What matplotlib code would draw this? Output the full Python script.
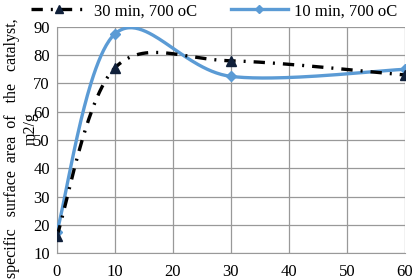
import numpy as np
import matplotlib
matplotlib.use('Agg')
import matplotlib.pyplot as plt
from matplotlib.lines import Line2D

# time, min
x_vals = [0, 10, 30, 60]
# specific surface area, m2/g
area_30min = [16, 75.5, 78, 73]
area_10min = [17.5, 87.5, 72.5, 75]

label_30 = '30 min, 700 oC'
label_10 = '10 min, 700 oC'
xticks = [0, 10, 20, 30, 40, 50, 60]
yticks = [10, 20, 30, 40, 50, 60, 70, 80, 90]

plt.rcParams['font.family'] = ['Liberation Serif', 'DejaVu Serif']


def smooth(xs, ys, n=60):
    # Excel-like smoothed line: cubic Bezier with Catmull-Rom control points
    p = np.column_stack([xs, ys]).astype(float)
    out = []
    for i in range(len(p) - 1):
        p0 = p[i - 1] if i > 0 else p[i]
        p3 = p[i + 2] if i + 2 < len(p) else p[i + 1]
        c1 = p[i] + (p[i + 1] - p0) / 6
        c2 = p[i + 1] - (p3 - p[i]) / 6
        t = np.linspace(0, 1, n)[:, None]
        seg = ((1 - t) ** 3 * p[i] + 3 * (1 - t) ** 2 * t * c1
               + 3 * (1 - t) * t ** 2 * c2 + t ** 3 * p[i + 1])
        out.append(seg)
    out = np.vstack(out)
    return out[:, 0], out[:, 1]


fig = plt.figure(figsize=(4.12, 2.8), dpi=100)
ax = fig.add_axes([0.138, 0.096, 0.845, 0.808])

blue = '#5B9BD5'
dash = (0, (3.4, 2.4, 0.6, 2.4))

sx, sy = smooth(x_vals, area_10min)
ax.plot(sx, sy, color=blue, lw=2.4, zorder=3)
ax.plot(x_vals, area_10min, ls='none', marker='D', ms=5.5, color=blue, zorder=4)

sx, sy = smooth(x_vals, area_30min)
ax.plot(sx, sy, color='black', lw=2.4, ls=dash, zorder=4)
ax.plot(x_vals, area_30min, ls='none', marker='^', ms=7, color='#10203a', zorder=5)

ax.set_xlim(0, 60)
ax.set_ylim(10, 90)
ax.set_xticks(xticks)
ax.set_yticks(yticks)
ax.grid(True, color='#999999', lw=0.9)
ax.set_axisbelow(True)
for s in ['top', 'right']:
    ax.spines[s].set_visible(False)
for s in ['left', 'bottom']:
    ax.spines[s].set_color('#999999')
ax.tick_params(length=0, labelsize=12, pad=5)
ax.tick_params(axis='x', pad=8)

fig.text(0.03, 0.47, 'specific   surface  area  of   the   catalyst,', rotation=90,
         ha='center', va='center', fontsize=11.5)
fig.text(0.075, 0.54, 'm2/g', rotation=90, ha='center', va='center', fontsize=11.5)

handles = [Line2D([], [], color='black', lw=2.4, ls=dash, marker='^', ms=6,
                  mfc='#10203a', mec='#10203a'),
           Line2D([], [], color=blue, lw=2.4, marker='D', ms=4)]
fig.legend(handles, [label_30, label_10], loc='center', ncol=2,
           bbox_to_anchor=(0.52, 0.96), frameon=False, fontsize=12,
           handlelength=3.4, columnspacing=2.0, handletextpad=0.4)

fig.savefig('out.png', dpi=100)
